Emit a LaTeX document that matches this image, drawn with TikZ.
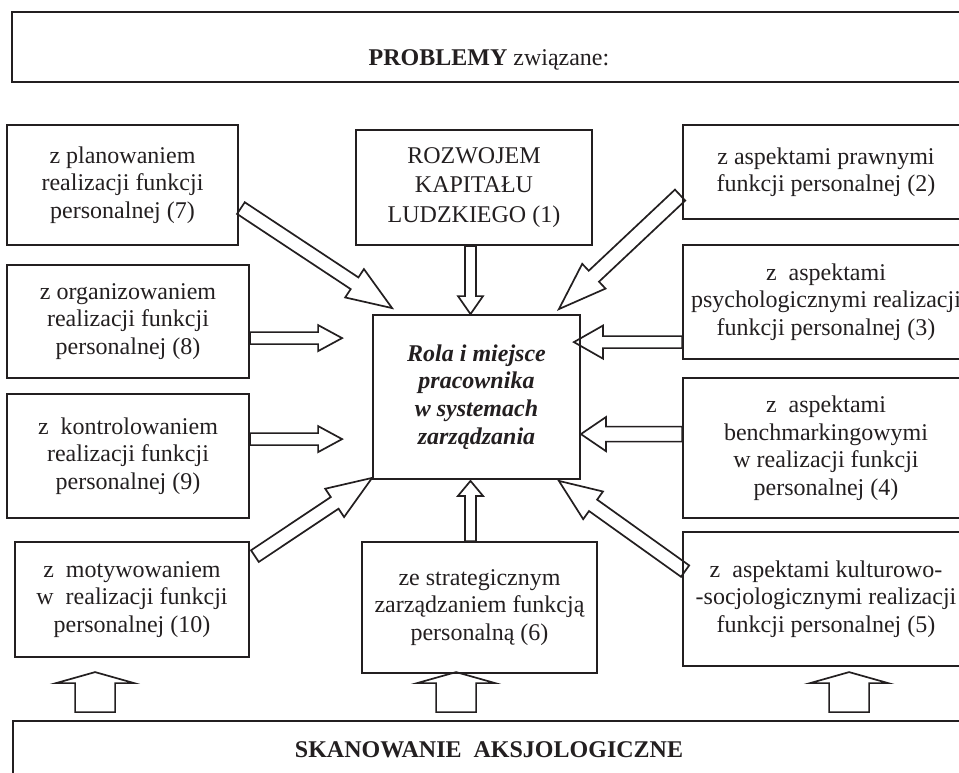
\documentclass[tikz,border=0pt]{standalone}
\usepackage{fontspec}
\setmainfont{Liberation Serif}
\usetikzlibrary{calc}
\pgfdeclarelayer{bg}
\pgfdeclarelayer{arr}
\pgfsetlayers{bg,arr,main}
\definecolor{ink}{HTML}{231F20}
\tikzset{
  box/.style={draw=ink, text=ink, line width=1.8pt, align=center, inner sep=0pt,
    font=\fontsize{24}{27.5}\selectfont},
  lbl/.style={inner sep=0pt, text=ink, font=\fontsize{24}{28}\selectfont},
  barrow/.style={draw=ink, line width=1.7pt, fill=white, line join=miter, miter limit=30},
}
\newcommand\blockarrow[5]{%
  \path let \p1=(#1), \p2=(#2), \n1={atan2(\y2-\y1,\x2-\x1)},
    \n2={veclen(\x2-\x1,\y2-\y1)} in
    \pgfextra{\xdef\baang{\n1}\xdef\balen{\n2}\xdef\bax{\x1}\xdef\bay{\y1}};
  \draw[barrow, shift={(\bax,\bay)}, rotate=\baang]
    (0pt,-#3pt) -- ({\balen-#5pt},-#3pt) -- ({\balen-#5pt},-#4pt) -- (\balen,0pt)
    -- ({\balen-#5pt},#4pt) -- ({\balen-#5pt},#3pt) -- (0pt,#3pt) -- cycle;
}
\begin{document}
\begin{tikzpicture}[x=1pt,y=-1pt]
\useasboundingbox (0,0) rectangle (959,773);
\begin{pgfonlayer}{bg}
\fill[white] (0,0) rectangle (959,773);
\end{pgfonlayer}

% boxes
\node[box, minimum width=954pt, minimum height=70pt] (top) at (489,47) {};
\node[lbl, anchor=base] (toptxt) at (489,66) {\textbf{PROBLEMY} związane:};
\node[box, minimum width=953pt, minimum height=99pt] (bot) at (489.5,770.5) {};
\node[lbl, anchor=base] (bottxt) at (489,757) {\textbf{SKANOWANIE~~AKSJOLOGICZNE}};

\node[box, minimum width=231pt, minimum height=120pt] (b7) at (122.5,185)
  {z planowaniem\\realizacji funkcji\\personalnej (7)};
\node[box, minimum width=242pt, minimum height=113pt] (b8) at (128,321.5)
  {z organizowaniem\\realizacji funkcji\\personalnej (8)};
\node[box, minimum width=242pt, minimum height=124pt] (b9) at (128,456)
  {z~~kontrolowaniem\\realizacji funkcji\\personalnej (9)};
\node[box, minimum width=234pt, minimum height=115pt] (b10) at (132,599.5)
  {z~~motywowaniem\\w~~realizacji funkcji\\personalnej (10)};
\node[box, minimum width=236pt, minimum height=115pt,
  font=\fontsize{24}{29.5}\selectfont] (b1) at (474,187.5)
  {ROZWOJEM\\KAPITAŁU\\LUDZKIEGO (1)};
\node[box, minimum width=207pt, minimum height=164pt,
  font=\fontsize{24}{27.7}\selectfont\bfseries\itshape] (c) at (476.5,397)
  {Rola i miejsce\\pracownika\\w systemach\\zarządzania};
\node[box, minimum width=235pt, minimum height=131pt] (b6) at (479.5,607.5)
  {ze strategicznym\\zarządzaniem funkcją\\personalną (6)};
\node[box, minimum width=286pt, minimum height=94pt] (b2) at (826,172)
  {z aspektami prawnymi\\funkcji personalnej (2)};
\node[box, minimum width=286pt, minimum height=114pt] (b3) at (826,302)
  {z~~aspektami\\psychologicznymi realizacji\\funkcji personalnej (3)};
\node[box, minimum width=286pt, minimum height=140pt] (b4) at (826,448)
  {z~~aspektami\\benchmarkingowymi\\w realizacji funkcji\\personalnej (4)};
\node[box, minimum width=286pt, minimum height=134pt] (b5) at (826,599)
  {z~~aspektami kulturowo-\\-socjologicznymi realizacji\\funkcji personalnej (5)};

% connector end points
\coordinate (a7s) at ($(b7.north east)+(2,84)$);
\coordinate (a7e) at ($(c.north west)+(20,-6)$);
\coordinate (a1s) at ($(b1.south)+(-3.5,0)$);
\coordinate (a1e) at ($(c.north)+(-6,0)$);
\coordinate (a2s) at ($(b2.north west)+(-2,71)$);
\coordinate (a2e) at ($(c.north east)+(-22,-5)$);
\coordinate (a8s) at ($(b8.north east)+(0,74)$);
\coordinate (a8e) at ($(c.north west)+(-30,24)$);
\coordinate (a3s) at ($(b3.north west)+(0,98)$);
\coordinate (a3e) at ($(c.north east)+(-7,28)$);
\coordinate (a9s) at ($(b9.north east)+(0,46)$);
\coordinate (a9e) at ($(c.north west)+(-30,125)$);
\coordinate (a4s) at ($(b4.north west)+(0,57)$);
\coordinate (a4e) at ($(c.north east)+(0,120)$);
\coordinate (a10s) at ($(b10.north east)+(5,15)$);
\coordinate (a10e) at ($(c.south west)+(0,-2)$);
\coordinate (a6s) at ($(b6.north)+(-9,0)$);
\coordinate (a6e) at ($(c.south)+(-6,1)$);
\coordinate (a5s) at ($(b5.north west)+(3,40)$);
\coordinate (a5e) at ($(c.south east)+(-22,1)$);
\coordinate (u1s) at ($(bot.north west)+(83,-8)$);
\coordinate (u1e) at ($(bot.north west)+(83,-48)$);
\coordinate (u2s) at ($(bot.north west)+(444,-8)$);
\coordinate (u2e) at ($(bot.north west)+(444,-48)$);
\coordinate (u3s) at ($(bot.north west)+(837,-8)$);
\coordinate (u3e) at ($(bot.north west)+(837,-48)$);

\begin{pgfonlayer}{arr}
\blockarrow{a7s}{a7e}{7}{17}{45}
\blockarrow{a1s}{a1e}{5.5}{12.5}{18}
\blockarrow{a2s}{a2e}{7.5}{17}{48}
\blockarrow{a8s}{a8e}{6}{13}{24}
\blockarrow{a3s}{a3e}{6}{16.5}{29}
\blockarrow{a9s}{a9e}{6}{13}{24}
\blockarrow{a4s}{a4e}{7.5}{17}{25}
\blockarrow{a10s}{a10e}{7}{17}{45}
\blockarrow{a6s}{a6e}{5.5}{12.5}{15}
\blockarrow{a5s}{a5e}{7}{17}{42}
\blockarrow{u1s}{u1e}{20}{39}{11}
\blockarrow{u2s}{u2e}{20}{39}{11}
\blockarrow{u3s}{u3e}{20}{39}{11}
\end{pgfonlayer}
\end{tikzpicture}
\end{document}
